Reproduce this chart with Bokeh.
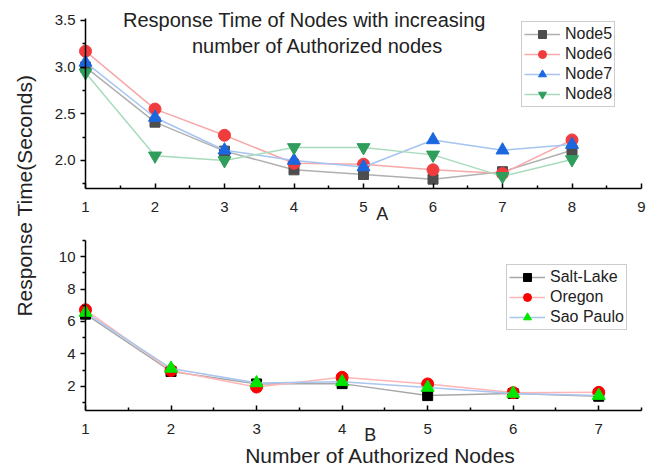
import numpy as np
from bokeh.plotting import figure
from bokeh.layouts import row, column
from bokeh.models import Range1d, FixedTicker, Label, PrintfTickFormatter
from bokeh.embed import file_html
from bokeh.resources import INLINE

FONT = "Liberation Sans"

# ---------------- data: panel A ----------------
x_top = [1, 2, 3, 4, 5, 6, 7, 8]
node5 = [3.00, 2.41, 2.10, 1.90, 1.85, 1.80, 1.88, 2.11]
node6 = [3.17, 2.55, 2.27, 1.97, 1.96, 1.90, 1.86, 2.22]
node7 = [3.05, 2.46, 2.11, 2.00, 1.93, 2.22, 2.11, 2.17]
node8 = [2.94, 2.05, 2.00, 2.14, 2.14, 2.06, 1.83, 2.01]
top_xticks = [1, 2, 3, 4, 5, 6, 7, 8, 9]
top_yticks = [2.0, 2.5, 3.0, 3.5]

# ---------------- data: panel B ----------------
x_bot = [1, 2, 3, 4, 5, 6, 7]
salt_lake = [6.45, 2.91, 2.14, 2.16, 1.42, 1.55, 1.38]
oregon = [6.72, 2.97, 1.95, 2.55, 2.14, 1.60, 1.62]
sao_paulo = [6.55, 3.10, 2.20, 2.27, 1.92, 1.55, 1.42]
bot_xticks = [1, 2, 3, 4, 5, 6, 7]
bot_yticks = [2, 4, 6, 8, 10]

title_lines = ["Response Time of Nodes with increasing", "number of Authorized nodes"]
y_title = "Response Time(Seconds)"
x_title = "Number of Authorized Nodes"

# axis extents (Origin-style axes drawn inside a larger frame)
TOP_X = (1, 9)
TOP_Y = (1.70, 3.52)
BOT_X = (1, 7.5)
BOT_Y = (0.5, 11)

# layout in page pixels
AX_LEFT, AX_RIGHT = 85, 641          # axis x extent on page
FR_LEFT, FR_RIGHT = 45, 662          # frame x extent on page
FIG_LEFT = 40
AX_H = 170                           # axis y extent (pixels)


def xr(xb):
    ppx = (AX_RIGHT - AX_LEFT) / (xb[1] - xb[0])
    return Range1d(xb[0] - (AX_LEFT - FR_LEFT) / ppx, xb[1] + (FR_RIGHT - AX_RIGHT) / ppx)


def yr(ybd, above, below):
    ppy = AX_H / (ybd[1] - ybd[0])
    return Range1d(ybd[0] - below / ppy, ybd[1] + above / ppy)


def style(p, xticks, yticks, xminor, yminor, xb, yb):
    p.xgrid.visible = False
    p.ygrid.visible = False
    p.outline_line_color = None
    p.xaxis.ticker = FixedTicker(ticks=xticks, minor_ticks=list(xminor))
    p.yaxis.ticker = FixedTicker(ticks=yticks, minor_ticks=list(yminor))
    p.xaxis.bounds = xb
    p.yaxis.bounds = yb
    p.xaxis.fixed_location = yb[0]
    p.yaxis.fixed_location = xb[0]
    for ax in (p.xaxis[0], p.yaxis[0]):
        ax.axis_line_color = "black"
        ax.axis_line_width = 1.5
        ax.major_tick_line_color = "black"
        ax.major_tick_line_width = 1.5
        ax.minor_tick_line_color = "black"
        ax.minor_tick_line_width = 1.5
        ax.major_label_text_font = FONT
        ax.major_label_text_font_size = "15px"
        ax.major_label_text_color = "#222222"
    p.xaxis.major_tick_in = 5
    p.xaxis.major_tick_out = 0
    p.xaxis.minor_tick_in = 3
    p.xaxis.minor_tick_out = 0
    p.xaxis.major_label_standoff = 13
    p.yaxis.major_tick_in = 0
    p.yaxis.major_tick_out = 5
    p.yaxis.minor_tick_in = 0
    p.yaxis.minor_tick_out = 3
    p.yaxis.major_label_standoff = 5


def style_legend(p, loc):
    lg = p.legend[0]
    lg.location = loc
    lg.label_text_font = FONT
    lg.label_text_font_size = "16px"
    lg.label_text_color = "#222222"
    lg.glyph_width = 36
    lg.glyph_height = 20
    lg.label_height = 20
    lg.label_standoff = 5
    lg.spacing = 0
    lg.padding = 2
    lg.margin = 0
    lg.border_line_color = "#999999"
    lg.border_line_width = 1
    lg.background_fill_color = "white"
    lg.background_fill_alpha = 1


def txt(p, x, y, s, size, **kw):
    p.add_layout(Label(x=x, y=y, text=s, text_align="center", text_baseline="middle",
                       text_font=FONT, text_font_size=size, text_color="#222222", **kw))


def make_fig(height, xb, yb, above, below):
    return figure(width=FR_RIGHT - FIG_LEFT, height=height, x_range=xr(xb), y_range=yr(yb, above, below),
                  toolbar_location=None, output_backend="svg",
                  min_border_left=FR_LEFT - FIG_LEFT, min_border_right=0,
                  min_border_top=0, min_border_bottom=0)


# ---------------- panel A (frame = page y 0..230) ----------------
p1 = make_fig(230, TOP_X, TOP_Y, 18, 42)
style(p1, top_xticks, top_yticks, np.arange(1.5, 9, 1.0), np.arange(1.75, 3.5, 0.5), TOP_X, TOP_Y)
p1.yaxis.formatter = PrintfTickFormatter(format="%.1f")

series_a = [
    ("Node5", node5, "square", "#4d4d4d", "#b0b0b0", 10),
    ("Node6", node6, "circle", "#f03c3c", "#f7a8a8", 12),
    ("Node7", node7, "triangle", "#1b67e0", "#a6c4f2", 13),
    ("Node8", node8, "inverted_triangle", "#2f9e5c", "#a8dbbb", 13),
]
for name, ys, mk, mc, lc, sz in series_a:
    p1.line(x_top, ys, line_color=lc, line_width=1.5, legend_label=name)
    p1.scatter(x_top, ys, marker=mk, size=sz, fill_color=mc, line_color=mc, legend_label=name)
style_legend(p1, (521 - FR_LEFT, 230 - 107))

txt(p1, 4.15, 3.50, title_lines[0], "20px")
txt(p1, 4.34, 3.23, title_lines[1], "20px")
txt(p1, 5.27, 1.43, "A", "18px")

# ---------------- panel B (frame = page y 230..469) ----------------
p2 = make_fig(239, BOT_X, BOT_Y, 10, 59)
style(p2, bot_xticks, bot_yticks, np.arange(1.5, 7.6, 1.0), np.arange(1, 11.1, 2), BOT_X, BOT_Y)

series_b = [
    ("Salt-Lake", salt_lake, "square", "#000000", "#a8a8a8", 10),
    ("Oregon", oregon, "circle", "#ff0000", "#ffb5b5", 12),
    ("Sao Paulo", sao_paulo, "triangle", "#00e600", "#a9c6f0", 13),
]
for name, ys, mk, mc, lc, sz in series_b:
    p2.line(x_bot, ys, line_color=lc, line_width=1.5, legend_label=name)
    p2.scatter(x_bot, ys, marker=mk, size=sz, fill_color=mc, line_color=mc, legend_label=name)
style_legend(p2, (506 - FR_LEFT, 469 - 330))

txt(p2, 4.33, -1.04, "B", "18px")
txt(p2, 4.45, -2.28, x_title, "21px")

# ---------------- shared y-axis title ----------------
lf = figure(width=FIG_LEFT, height=469, x_range=Range1d(0, 1), y_range=Range1d(0, 1),
            toolbar_location=None, output_backend="svg", min_border=0,
            x_axis_type=None, y_axis_type=None)
lf.xgrid.visible = False
lf.ygrid.visible = False
lf.outline_line_color = None
txt(lf, 0.6, 0.584, y_title, "21px", angle=np.pi / 2)

layout = row(lf, column(p1, p2))
open("out.html", "w").write(file_html(layout, INLINE))
